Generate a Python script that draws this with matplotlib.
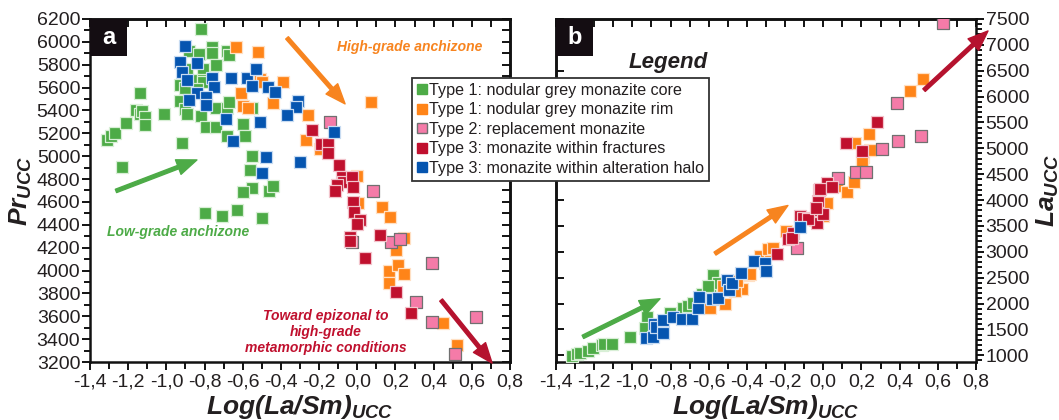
import matplotlib
matplotlib.use("Agg")
import matplotlib.pyplot as plt
from matplotlib.ticker import MultipleLocator, FuncFormatter
from matplotlib.patches import Rectangle
from matplotlib.lines import Line2D

plt.rcParams['font.family'] = ['Liberation Sans', 'DejaVu Sans']
plt.rcParams['mathtext.fontset'] = 'custom'
plt.rcParams['mathtext.rm'] = 'Liberation Sans:italic:bold'
plt.rcParams['mathtext.it'] = 'Liberation Sans:italic:bold'
plt.rcParams['mathtext.bf'] = 'Liberation Sans:italic:bold'

# ---- panel a : Log(La/Sm) vs Pr ----
a_core_x = [-1.31, -1.29, -1.27, -1.21, -1.16, -1.14, -1.14, -1.13, -1.11, -1.11, -1.23, -1.01,
            -0.92, -0.93, -0.90, -0.93, -0.90, -0.89, -0.82, -0.82, -0.88, -0.83, -0.76, -0.76,
            -0.68, -0.67, -0.74, -0.81, -0.86, -0.81, -0.81, -0.84, -0.74, -0.68, -0.67, -0.79,
            -0.74, -0.68, -0.60, -0.59, -0.55, -0.55, -0.56, -0.55, -0.60, -0.46, -0.44, -0.80,
            -0.71, -0.63, -0.50, -0.89]
a_core_y = [5140, 5180, 5200, 5290, 5400, 5550, 5370, 5395, 5340, 5270, 4905, 5370,
            5115, 5620, 5600, 5480, 5410, 5370, 5350, 6110, 5920, 5895, 5955, 5905,
            5920, 5885, 5800, 5765, 5665, 5665, 5650, 5590, 5420, 5420, 5475, 5255,
            5255, 5175, 5280, 5175, 5420, 5000, 4880, 4720, 4690, 4695, 4740, 4505,
            4480, 4530, 4460, 5760]
a_rim_x = [-0.635, -0.52, -0.61, -0.60, -0.57, -0.51, -0.50, -0.39, -0.44, -0.26, -0.27, 0.072,
           -0.195, 0.00, 0.004, 0.13, 0.17, 0.245, 0.203, 0.166, 0.213, 0.245, 0.166, 0.449, 0.522]
a_rim_y = [5955, 5910, 5553, 5440, 5422, 5675, 5650, 5650, 5465, 5360, 5142, 5474,
           5063, 4827, 4590, 4556, 4468, 4285, 4180, 3996, 4048, 3970, 3891, 3541, 3349]
a_repl_x = [-0.143, 0.082, 0.177, 0.224, 0.391, 0.308, 0.391, 0.622, 0.512, -0.028]
a_repl_y = [5299, 4696, 4250, 4276, 4066, 3725, 3550, 3594, 3270, 4250]
a_frac_x = [-0.237, -0.19, -0.153, -0.153, -0.096, -0.08, -0.075, -0.106, -0.117, -0.028, -0.022,
            -0.022, -0.017, 0.014, -0.001, -0.038, -0.038, 0.12, 0.04, 0.203, 0.28]
a_frac_y = [5229, 5107, 5107, 5028, 4923, 4818, 4774, 4748, 4696, 4818, 4731,
            4600, 4512, 4442, 4407, 4293, 4258, 4311, 4110, 3812, 3629]
a_halo_x = [-0.90, -0.93, -0.92, -0.84, -0.89, -0.76, -0.75, -0.66, -0.58, -0.53, -0.55, -0.47,
            -0.43, -0.84, -0.79, -0.88, -0.79, -0.69, -0.65, -0.51, -0.48, -0.50, -0.31, -0.32,
            -0.37, -0.30, -0.12]
a_halo_y = [5965, 5825, 5735, 5815, 5665, 5685, 5605, 5685, 5685, 5765, 5615, 5605,
            5560, 5555, 5520, 5490, 5450, 5325, 5135, 5300, 4995, 4855, 5485, 5430,
            5360, 4950, 5210]

# ---- panel b : Log(La/Sm) vs La ----
b_core_x = [-1.316, -1.290, -1.274, -1.232, -1.206, -1.159, -1.149, -1.107, -1.012, -0.923, -0.934,
            -0.803, -0.735, -0.709, -0.682, -0.635, -0.604, -0.593, -0.578, -0.551, -0.604]
b_core_y = [990, 1030, 1045, 1085, 1145, 1200, 1220, 1220, 1360, 1745, 1530,
            1820, 1920, 1960, 2015, 2190, 2305, 2250, 2560, 2400, 2330]
b_rim_x = [-0.609, -0.593, -0.515, -0.426, -0.394, -0.462, -0.525, -0.452, -0.384, -0.331, -0.279,
           -0.289, -0.263, -0.195, -0.001, -0.043, -0.017, 0.020, 0.072, 0.124, 0.161, 0.203,
           0.208, 0.203, 0.245, 0.166, 0.240, 0.454, 0.522]
b_rim_y = [2000, 1920, 2000, 2290, 2560, 2250, 2345, 2440, 2580, 2925, 2990,
           3060, 3080, 3410, 3700, 3605, 3935, 3935, 4265, 4150, 4340, 4690,
           4825, 4750, 4960, 5100, 5270, 6105, 6335]
b_repl_x = [-0.138, 0.077, 0.171, 0.224, 0.308, 0.392, 0.512, 0.386, 0.627]
b_repl_y = [3080, 4420, 4535, 4535, 4980, 5135, 5235, 5870, 7420]
b_frac_x = [-0.242, -0.185, -0.158, -0.164, -0.122, -0.106, -0.033, -0.033, -0.001, -0.028,
            -0.022, 0.020, -0.017, 0.046, 0.119, 0.203, 0.282, -0.080, -0.038]
b_frac_y = [2965, 3240, 3370, 3275, 3700, 3645, 3565, 3800, 3740, 3990,
            4185, 4320, 4205, 4245, 5100, 4945, 5505, 3640, 3840]
b_halo_x = [-0.929, -0.892, -0.887, -0.876, -0.840, -0.840, -0.787, -0.740, -0.688, -0.656, -0.651,
            -0.583, -0.551, -0.504, -0.494, -0.478, -0.431, -0.363, -0.305, -0.300, -0.122]
b_halo_y = [1340, 1360, 1610, 1550, 1435, 1690, 1745, 1705, 1705, 1920, 2130,
            2095, 2110, 2460, 2270, 2400, 2600, 2830, 2790, 2635, 3470]

labels = ['Type 1: nodular grey monazite core', 'Type 1: nodular grey monazite rim',
          'Type 2: replacement monazite', 'Type 3: monazite within fractures',
          'Type 3: monazite within alteration halo']
colors = ['#4dab47', '#ff8418', '#f57ba8', '#c0102e', '#0555b0']
edges = ['#d8efd6', '#ffe0c4', '#707070', '#f2c4cc', '#c8dcf2']

TXT = '#231f20'
same = (lambda v: v, lambda v: v)

fig = plt.figure(figsize=(10.59, 4.2), dpi=100)
axa = fig.add_axes([0.085, 0.138, 0.3966, 0.817])
axb = fig.add_axes([0.525, 0.138, 0.3966, 0.817])

series_a = [(a_core_x, a_core_y), (a_rim_x, a_rim_y), (a_repl_x, a_repl_y),
            (a_frac_x, a_frac_y), (a_halo_x, a_halo_y)]
series_b = [(b_core_x, b_core_y), (b_rim_x, b_rim_y), (b_repl_x, b_repl_y),
            (b_frac_x, b_frac_y), (b_halo_x, b_halo_y)]

for ax, series in [(axa, series_a), (axb, series_b)]:
    for (xs, ys), c, e in zip(series, colors, edges):
        ax.scatter(xs, ys, s=74, marker='s', c=c, edgecolors=e, linewidths=0.9, zorder=3)
    ax.set_xlim(-1.4, 0.8)
    ax.xaxis.set_major_locator(MultipleLocator(0.2))
    ax.xaxis.set_minor_locator(MultipleLocator(0.1))
    ax.xaxis.set_major_formatter(FuncFormatter(
        lambda v, p: ('%.1f' % v).replace('.', ',').replace('-0,0', '0,0')))
    for s in ax.spines.values():
        s.set_linewidth(1.8)
        s.set_color('#111111')
    ax.tick_params(axis='x', which='both', direction='out', bottom=True, top=False,
                   labelsize=14, labelcolor=TXT, width=1.3, pad=2)
    ax.tick_params(axis='x', which='major', length=6)
    ax.tick_params(axis='x', which='minor', length=5)
    ax.set_xlabel(r'$Log(La/Sm)_{UCC}$', fontsize=19, color=TXT, labelpad=2)
    # inward ticks along the top
    top = ax.secondary_xaxis('top', functions=same)
    top.xaxis.set_major_locator(MultipleLocator(0.1))
    top.tick_params(axis='x', direction='in', length=6, width=1.3, labeltop=False)
    top.spines['top'].set_linewidth(1.8)

# panel a y axis
axa.set_ylim(3200, 6200)
axa.yaxis.set_major_locator(MultipleLocator(200))
axa.yaxis.set_minor_locator(MultipleLocator(100))
axa.tick_params(axis='y', which='both', left=True, right=False, labelsize=14,
                labelcolor=TXT, width=1.3, pad=1, direction='out')
axa.tick_params(axis='y', which='major', length=6)
axa.tick_params(axis='y', which='minor', length=4)
axa.set_ylabel(r'$Pr_{UCC}$', fontsize=19, color=TXT, labelpad=2)
ra = axa.secondary_yaxis('right', functions=same)
ra.yaxis.set_major_locator(MultipleLocator(100))
ra.tick_params(axis='y', direction='in', length=6, width=1.3, labelright=False)
ra.spines['right'].set_linewidth(1.8)

# panel b y axis on right
axb.set_ylim(870, 7500)
axb.yaxis.tick_right()
axb.yaxis.set_label_position('right')
axb.yaxis.set_major_locator(MultipleLocator(500))
axb.yaxis.set_minor_locator(MultipleLocator(100))
axb.tick_params(axis='y', which='both', direction='out', right=True, left=False,
                labelsize=14, labelcolor=TXT, width=1.3, pad=1)
axb.tick_params(axis='y', which='major', length=6)
axb.tick_params(axis='y', which='minor', length=4)
axb.set_ylabel(r'$La_{UCC}$', fontsize=19, color=TXT, labelpad=4)
lb = axb.secondary_yaxis('left', functions=same)
lb.yaxis.set_major_locator(MultipleLocator(500))
lb.tick_params(axis='y', direction='in', length=6, width=1.3, labelleft=False)
lb.spines['left'].set_linewidth(1.8)

# panel letters
for ax, letter in [(axa, 'a'), (axb, 'b')]:
    ax.add_patch(Rectangle((0, 1), 0.088, -0.108, transform=ax.transAxes,
                           facecolor='#140d12', edgecolor='none', zorder=5))
    ax.text(0.044, 0.946, letter, transform=ax.transAxes, color='white',
            fontsize=17, fontweight='bold', ha='center', va='center', zorder=6)

arrow = 'simple,head_length=0.9,head_width=0.7,tail_width=0.16'

def arr(ax, tail, tip, color):
    ax.annotate('', xy=tip, xytext=tail, annotation_clip=False,
                arrowprops=dict(arrowstyle=arrow, color=color, mutation_scale=16,
                                shrinkA=0, shrinkB=0), zorder=4)

# annotations panel a
arr(axa, (-0.368, 6034), (-0.064, 5457), '#f7841f')
arr(axa, (-1.264, 4696), (-0.840, 4967), '#4dab47')
arr(axa, (0.439, 3742), (0.706, 3191), '#b5122e')
axa.text(0.276, 5955, 'High-grade anchizone', color='#f7841f', fontsize=10,
         fontweight='bold', style='italic', ha='center', va='center')
axa.text(-0.939, 4337, 'Low-grade anchizone', color='#4dab47', fontsize=10,
         fontweight='bold', style='italic', ha='center', va='center')
axa.text(-0.164, 3462, 'Toward epizonal to\nhigh-grade\nmetamorphic conditions',
         color='#c0102e', fontsize=10, fontweight='bold', style='italic',
         ha='center', va='center', linespacing=1.15)

# annotations panel b
arr(axb, (-1.259, 1356), (-0.855, 2093), '#4dab47')
arr(axb, (-0.567, 2965), (-0.185, 3895), '#f7841f')
arr(axb, (0.528, 6124), (0.863, 7267), '#b5122e')

handles = [Line2D([], [], marker='s', linestyle='none', markersize=6.5, markerfacecolor=c,
                  markeredgecolor=(e if c == '#f57ba8' else c), markeredgewidth=1.0)
           for c, e in zip(colors, edges)]
leg = fig.legend(handles, labels, loc='upper left', bbox_to_anchor=(0.389, 0.814),
                 frameon=True, fancybox=False, framealpha=1, edgecolor='#333333',
                 fontsize=11.6, handlelength=0.6, handletextpad=0.15, borderpad=0.3,
                 labelspacing=0.28, borderaxespad=0)
leg.get_frame().set_linewidth(1.3)
for t in leg.get_texts():
    t.set_color(TXT)
fig.text(0.668, 0.852, 'Legend', ha='right', va='center', fontsize=16,
         fontweight='bold', style='italic', color=TXT)

fig.savefig('out.png', dpi=100)
